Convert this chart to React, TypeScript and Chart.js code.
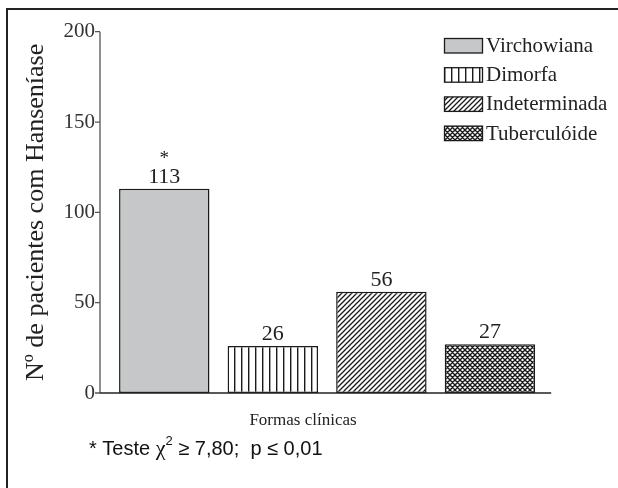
import React, { useEffect, useRef } from "react";
import { Chart, registerables } from "chart.js";

Chart.register(...registerables);

const categories = ["Virchowiana", "Dimorfa", "Indeterminada", "Tuberculóide"];
const patientCounts = [113, 26, 56, 27];
const significanceMarks = ["*", "", "", ""];
const yTickValues = [0, 50, 100, 150, 200];
const yAxisTitle = "Nº de pacientes com Hanseníase";
const xAxisTitle = "Formas clínicas";
const footnoteBefore = "* Teste ";
const footnoteSymbol = "χ";
const footnoteSup = "2";
const footnoteAfter = " ≥ 7,80;  p ≤ 0,01";

const SERIF = '"Liberation Serif", "DejaVu Serif", serif';
const SANS = '"Liberation Sans", Arial, sans-serif';

type PatternKind = "gray" | "vertical" | "diagonal" | "cross";
const patternKinds: PatternKind[] = ["gray", "vertical", "diagonal", "cross"];

function makePattern(kind: PatternKind): CanvasPattern | string {
  if (kind === "gray") return "#c6c7c9";
  const c = document.createElement("canvas");
  const ctx = c.getContext("2d")!;
  if (kind === "vertical") {
    c.width = 7;
    c.height = 7;
    ctx.fillStyle = "#ffffff";
    ctx.fillRect(0, 0, 7, 7);
    ctx.fillStyle = "#1a1a1a";
    ctx.fillRect(3, 0, 1.4, 7);
  } else if (kind === "diagonal") {
    const s = 5;
    c.width = s;
    c.height = s;
    ctx.fillStyle = "#ffffff";
    ctx.fillRect(0, 0, s, s);
    ctx.strokeStyle = "#1a1a1a";
    ctx.lineWidth = 1.3;
    ctx.beginPath();
    ctx.moveTo(0, s);
    ctx.lineTo(s, 0);
    ctx.moveTo(-1, 1);
    ctx.lineTo(1, -1);
    ctx.moveTo(s - 1, s + 1);
    ctx.lineTo(s + 1, s - 1);
    ctx.stroke();
  } else {
    const s = 5;
    c.width = s;
    c.height = s;
    ctx.fillStyle = "#ffffff";
    ctx.fillRect(0, 0, s, s);
    ctx.strokeStyle = "#1a1a1a";
    ctx.lineWidth = 1.4;
    ctx.beginPath();
    ctx.moveTo(0, s);
    ctx.lineTo(s, 0);
    ctx.moveTo(-1, 1);
    ctx.lineTo(1, -1);
    ctx.moveTo(s - 1, s + 1);
    ctx.lineTo(s + 1, s - 1);
    ctx.moveTo(0, 0);
    ctx.lineTo(s, s);
    ctx.moveTo(-1, s - 1);
    ctx.lineTo(1, s + 1);
    ctx.moveTo(s - 1, -1);
    ctx.lineTo(s + 1, 1);
    ctx.stroke();
  }
  const p = ctx.createPattern(c, "repeat");
  return p || "#888";
}

export default function App() {
  const canvasRef = useRef<HTMLCanvasElement | null>(null);

  useEffect(() => {
    const canvas = canvasRef.current;
    if (!canvas) return;
    const fills = patternKinds.map((k) => makePattern(k));

    const decorPlugin = {
      id: "decor",
      afterDraw(chart: any) {
        const { ctx, chartArea } = chart;
        const yScale = chart.scales.y;
        const meta = chart.getDatasetMeta(0);
        ctx.save();

        // frame (top + left)
        ctx.fillStyle = "#222";
        ctx.fillRect(6, 8, 618 - 6, 2);
        ctx.fillRect(6, 8, 2, 488 - 8);

        // axes
        const axisX = chartArea.left - 10;
        const y0 = yScale.getPixelForValue(0);
        const yTop = yScale.getPixelForValue(yTickValues[yTickValues.length - 1]);
        ctx.strokeStyle = "#555";
        ctx.lineWidth = 1.3;
        ctx.beginPath();
        ctx.moveTo(axisX, yTop);
        ctx.lineTo(axisX, y0);
        yTickValues.forEach((v) => {
          const py = yScale.getPixelForValue(v);
          ctx.moveTo(axisX - 5, py);
          ctx.lineTo(axisX, py);
        });
        ctx.stroke();
        ctx.strokeStyle = "#222";
        ctx.lineWidth = 1.5;
        ctx.beginPath();
        ctx.moveTo(axisX, y0);
        ctx.lineTo(chartArea.right + 7, y0);
        ctx.stroke();

        // value labels
        ctx.fillStyle = "#222";
        ctx.textAlign = "center";
        ctx.textBaseline = "alphabetic";
        meta.data.forEach((bar: any, i: number) => {
          ctx.font = `22px ${SERIF}`;
          ctx.fillText(String(patientCounts[i]), bar.x, bar.y - 6);
          if (significanceMarks[i]) {
            ctx.font = `19px ${SERIF}`;
            ctx.fillText(significanceMarks[i], bar.x, bar.y - 25);
          }
        });

        // x axis title
        ctx.font = `17px ${SERIF}`;
        ctx.textBaseline = "middle";
        ctx.fillText(xAxisTitle, 303, 421);

        // legend
        ctx.textAlign = "left";
        categories.forEach((label, i) => {
          const cy = 45.5 + i * 29.2;
          ctx.fillStyle = fills[i] as any;
          ctx.fillRect(444.5, cy - 7, 38, 14.5);
          ctx.strokeStyle = "#1a1a1a";
          ctx.lineWidth = 1.3;
          ctx.strokeRect(444.5, cy - 7, 38, 14.5);
          ctx.fillStyle = "#222";
          ctx.font = `21px ${SERIF}`;
          ctx.fillText(label, 486, cy + 1);
        });

        // footnote
        let fx = 89;
        const fy = 455;
        ctx.textBaseline = "alphabetic";
        ctx.fillStyle = "#111";
        ctx.font = `20px ${SANS}`;
        ctx.fillText(footnoteBefore, fx, fy);
        fx += ctx.measureText(footnoteBefore).width;
        ctx.font = `22px ${SERIF}`;
        ctx.fillText(footnoteSymbol, fx, fy);
        fx += ctx.measureText(footnoteSymbol).width;
        ctx.font = `13px ${SANS}`;
        ctx.fillText(footnoteSup, fx, fy - 10);
        fx += ctx.measureText(footnoteSup).width;
        ctx.font = `20px ${SANS}`;
        ctx.fillText(footnoteAfter, fx, fy);

        ctx.restore();
      },
    };

    const chart = new Chart(canvas, {
      type: "bar",
      data: {
        labels: categories,
        datasets: [
          {
            data: patientCounts,
            backgroundColor: fills as any,
            borderColor: "#1a1a1a",
            borderWidth: 1.5,
            borderSkipped: false,
            categoryPercentage: 1,
            barPercentage: 0.833,
          },
        ],
      },
      options: {
        responsive: false,
        animation: false,
        events: [],
        layout: { padding: { left: 0, top: 31.7, right: 73.8, bottom: 95 } },
        plugins: {
          legend: { display: false },
          tooltip: { enabled: false },
        },
        scales: {
          x: {
            offset: true,
            grid: { display: false, drawTicks: false },
            border: { display: false },
            ticks: { display: false },
            afterFit: (s: any) => {
              s.height = 0;
            },
          },
          y: {
            min: 0,
            max: 200,
            afterBuildTicks: (s: any) => {
              s.ticks = yTickValues.map((v) => ({ value: v }));
            },
            grid: { display: false, drawTicks: false },
            border: { display: false },
            ticks: {
              padding: 15,
              color: "#333",
              font: { family: SERIF, size: 21 },
            },
            title: {
              display: true,
              text: yAxisTitle,
              color: "#222",
              font: { family: SERIF, size: 26 },
              padding: { top: 21, bottom: 0 },
            },
            afterFit: (s: any) => {
              s.width = 110;
            },
          },
        },
      },
      plugins: [decorPlugin],
    });

    return () => {
      chart.destroy();
    };
  }, []);

  return (
    <div style={{ position: "fixed", left: 0, top: 0, width: 618, height: 488, background: "#fff" }}>
      <canvas ref={canvasRef} width={618} height={488} style={{ display: "block", width: 618, height: 488 }} />
    </div>
  );
}
